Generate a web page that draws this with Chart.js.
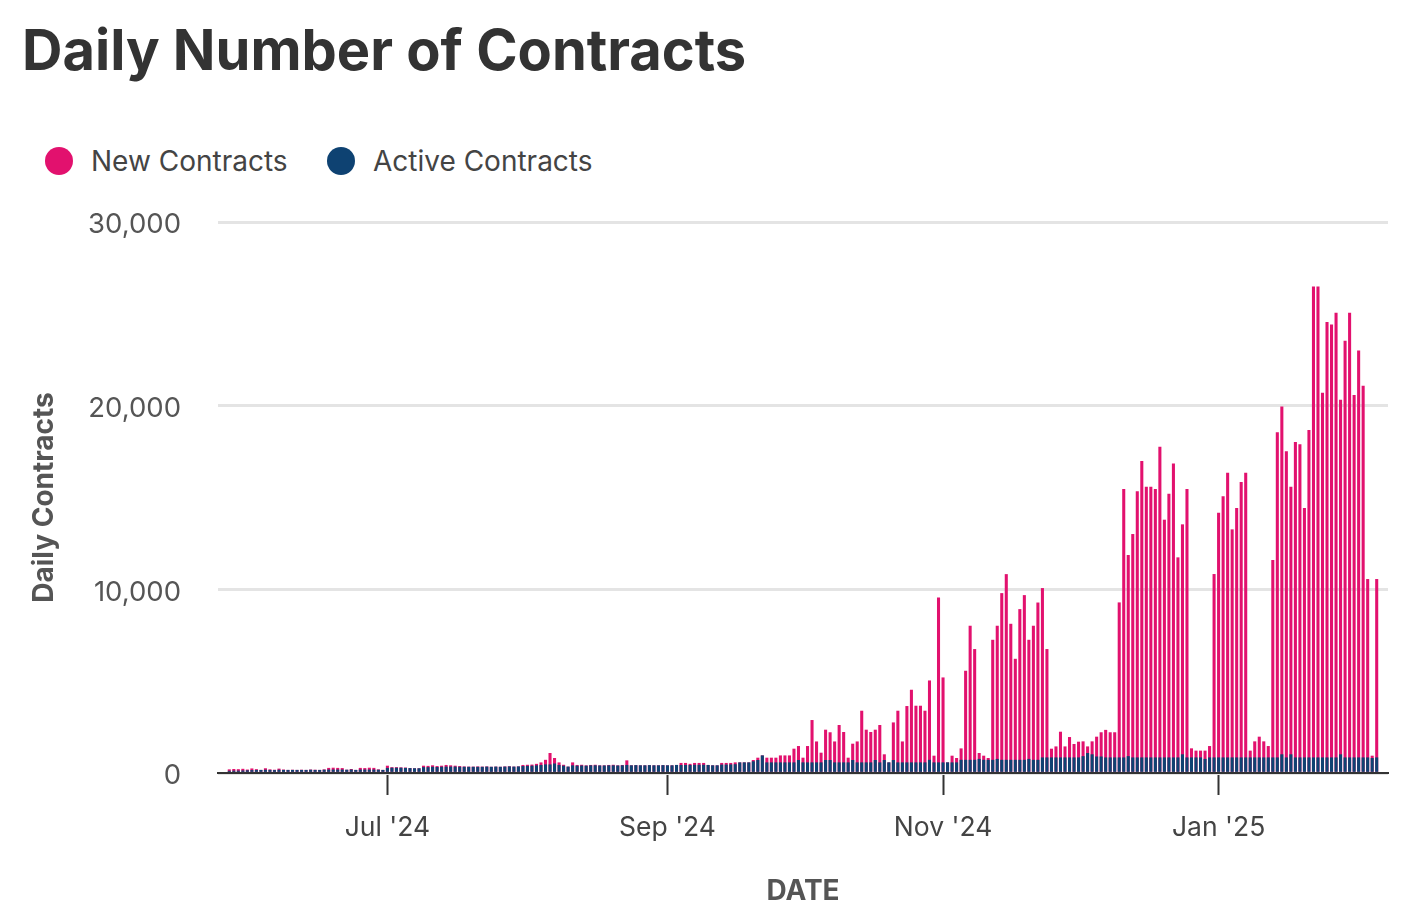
<!DOCTYPE html>
<html>
<head>
<meta charset="utf-8">
<script src="https://cdn.jsdelivr.net/npm/chart.js@4.4.1/dist/chart.umd.min.js"></script>
<style>
  html, body { margin: 0; padding: 0; background: #ffffff; }
  body { width: 1405px; height: 921px; position: relative; overflow: hidden; font-family: Inter, "Noto Sans", sans-serif; }
  #title { position: absolute; left: 22px; top: 22px; font-size: 56px; font-weight: 700; color: #333333; line-height: 1; white-space: nowrap; }
  .lg { position: absolute; top: 146px; height: 30px; display: flex; align-items: center; font-size: 28px; color: #444444; white-space: nowrap; }
  .dot { width: 28px; height: 28px; border-radius: 50%; margin-right: 18px; }
  #wrap { position: absolute; left: 0; top: 0; width: 1405px; height: 921px; }
</style>
</head>
<body>
<div id="title">Daily Number of Contracts</div>
<div class="lg" style="left:45px"><span class="dot" style="background:#E2116E"></span><span>New Contracts</span></div>
<div class="lg" style="left:327px"><span class="dot" style="background:#0E4272"></span><span>Active Contracts</span></div>
<div id="wrap"><canvas id="c"></canvas></div>
<script>
// ---- data ----
const startDate = '2024-05-27';
const tickDates = ['2024-07-01', '2024-09-01', '2024-11-01', '2025-01-01'];
const tickLabels = ["Jul '24", "Sep '24", "Nov '24", "Jan '25"];
const yTicks = [0, 10000, 20000, 30000];

const newContracts = [
  // May 27 - Jun 30
  180,200,190,210,170,230,190,150,240,180,160,220,170,150,160,150,160,150,170,160,150,180,260,270,260,250,160,200,150,260,250,270,260,180,150,
  // Jul 1 - Jul 21
  380,300,300,290,280,250,240,240,380,370,400,360,380,420,400,380,360,340,330,330,340,
  // Jul 22 - Aug 5
  330,340,320,330,320,340,350,330,340,420,430,440,480,560,700,
  // Aug 6 - Aug 11
  1072,800,560,430,330,560,
  // Aug 12 - Aug 22
  420,430,400,420,430,400,400,420,430,400,420,
  // Aug 23
  670,
  // Aug 24 - Sep 2
  400,410,400,400,410,400,400,410,400,400,
  // Sep 3 - Sep 16
  420,530,530,480,530,530,530,420,400,400,530,530,530,560,
  // Sep 17 - Oct 24
  560,560,560,690,816,940,816,816,816,940,940,940,1306,1450,816,1450,2866,1700,1088,2340,2200,1700,2594,2214,816,1578,1700,3373,2340,2214,2340,2594,1000,560,2736,3373,1700,3628,
  // Oct 25 - Nov 30
  4515,3645,3645,3373,5021,925,9537,5185,560,925,800,1322,5549,8000,6730,1070,925,800,7235,8000,9776,10810,8106,6200,8905,9667,7235,8000,9264,10050,6730,1306,1430,2230,1430,1940,1560,
  // Dec 1
  1687,
  // Dec 2 - Jan 21
  1705,1430,1705,1960,2200,2330,2200,2200,9270,15444,11850,12993,15316,16967,15570,15570,15444,17747,13773,15189,16840,11723,13520,15444,1325,1200,1200,1200,1450,10815,14154,15044,16333,13247,14408,15824,16333,1200,1705,1960,1705,1450,11578,18528,19943,17494,15570,18002,17880,14408,18655,
  // Jan 22 - Feb 5
  26477,26477,20687,24535,24408,25042,20306,23518,25042,20560,22992,21068,10543,925,10543
];

const activeContracts = [
  100,110,110,120,130,140,150,150,160,150,140,160,150,150,150,150,150,150,160,150,150,160,170,170,170,170,160,170,150,170,170,170,170,160,150,
  260,270,270,270,260,250,240,240,300,300,320,310,320,330,330,330,320,320,320,320,320,
  320,330,320,330,320,330,340,330,340,360,370,380,400,420,450,
  450,500,420,380,330,400,
  380,390,380,400,400,390,390,400,400,390,400,
  420,
  400,410,400,400,410,400,400,410,400,400,
  420,420,420,420,430,430,430,420,400,400,440,440,450,460,
  560,560,560,620,690,940,560,560,560,560,560,560,560,690,560,560,560,560,560,690,690,560,560,560,560,690,560,560,560,560,690,560,690,560,690,560,560,560,
  560,560,560,560,700,560,560,560,560,560,560,700,700,700,700,750,700,700,700,750,700,700,700,700,700,700,750,700,700,830,830,830,830,830,830,830,830,
  830,
  900,1070,1000,880,880,830,830,830,830,830,900,830,830,830,830,830,830,830,830,830,830,830,1000,830,830,830,830,750,830,830,830,830,830,830,830,830,830,830,830,830,830,830,830,830,1000,830,1000,830,830,830,830,
  830,830,830,830,830,830,1000,830,830,830,830,830,830,800,830
];

// ---- helpers ----
const DAY = 86400000;
const dayIndex = d => Math.round((Date.parse(d) - Date.parse(startDate)) / DAY);
const tickDays = tickDates.map(dayIndex);

const PINK = '#E2116E';
const BLUE = '#0E4272';
const FONT = 'Inter, "Noto Sans", sans-serif';

const chart = new Chart(document.getElementById('c'), {
  type: 'bar',
  data: {
    datasets: [
      {
        label: 'New Contracts',
        data: newContracts.map((v, i) => ({ x: i, y: v })),
        backgroundColor: PINK,
        grouped: false,
        barThickness: 2.4,
        order: 1
      },
      {
        label: 'Active Contracts',
        data: activeContracts.map((v, i) => ({ x: i, y: v })),
        backgroundColor: BLUE,
        grouped: false,
        barThickness: 2.4,
        order: 0
      }
    ]
  },
  options: {
    responsive: true,
    maintainAspectRatio: false,
    animation: false,
    locale: 'en-US',
    layout: { padding: { top: 222, right: 17, left: 0, bottom: 0 } },
    plugins: {
      legend: { display: false },
      tooltip: { enabled: false },
      title: { display: false }
    },
    scales: {
      x: {
        type: 'linear',
        offset: false,
        min: -2.5,
        max: newContracts.length + 1.5,
        afterBuildTicks: s => { s.ticks = tickDays.map(v => ({ value: v })); },
        afterFit: s => { s.height = 148; },
        grid: { offset: false, drawOnChartArea: false, drawTicks: true, tickLength: 22, tickColor: '#333333', tickWidth: 2 },
        border: { display: true, color: '#333333', width: 2 },
        ticks: {
          autoSkip: false, maxRotation: 0, padding: 17,
          color: '#444444', font: { family: FONT, size: 26.5 },
          callback: v => { const k = tickDays.indexOf(v); return k >= 0 ? tickLabels[k] : null; }
        },
        title: { display: true, text: 'DATE', color: '#555555', font: { family: FONT, size: 28, weight: '700' }, padding: { top: 0, bottom: 13 } }
      },
      y: {
        min: 0,
        max: 30000,
        afterBuildTicks: s => { s.ticks = yTicks.map(v => ({ value: v })); },
        afterFit: s => { s.width = 218; },
        grid: { color: '#e4e4e4', lineWidth: 3, drawTicks: false },
        border: { display: false },
        ticks: { padding: 37, labelOffset: 3, color: '#555555', font: { family: FONT, size: 27.5 } },
        title: { display: true, text: 'Daily Contracts', color: '#555555', font: { family: FONT, size: 28, weight: '700' }, padding: { top: 28, bottom: 0 } }
      }
    }
  }
});
</script>
</body>
</html>
